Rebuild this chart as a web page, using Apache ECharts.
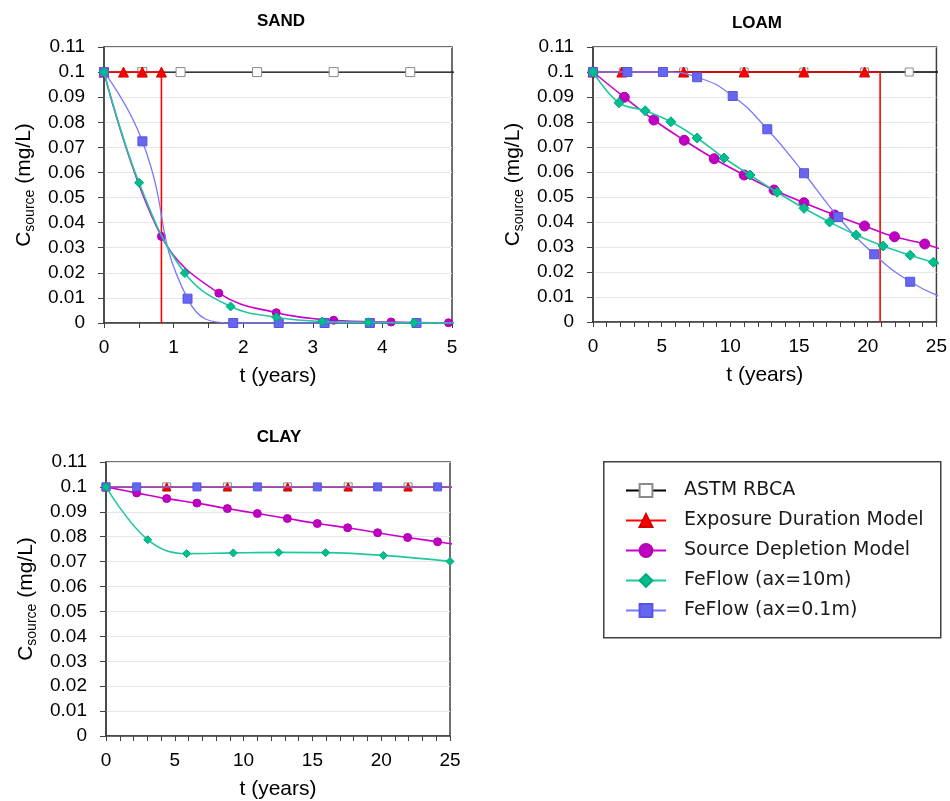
<!DOCTYPE html>
<html><head><meta charset="utf-8">
<script src="https://cdn.jsdelivr.net/npm/echarts@6/dist/echarts.min.js"></script>
<style>html,body{margin:0;padding:0;background:#fff}#c{width:950px;height:801px}</style>
</head><body><div id="c"></div>
<script>
// ---------- DATA ----------
const seriesNames = ['ASTM RBCA', 'Exposure Duration Model', 'Source Depletion Model', 'FeFlow (ax=10m)', 'FeFlow (ax=0.1m)'];
const panelTitles = ['SAND', 'LOAM', 'CLAY'];
const xAxisName = 't (years)';

// SAND (t in years, C in mg/L)
const sandAstmT = [0, 0.55, 1.1, 2.2, 3.3, 4.4, 5.5];
const sandAstmC = [0.1, 0.1, 0.1, 0.1, 0.1, 0.1, 0.1];
const sandExpT  = [0, 0.28, 0.55, 0.825, 0.825];
const sandExpC  = [0.1, 0.1, 0.1, 0.1, 0];
const sandExpUnmarked = [4];          // indices of step points drawn without a marker
const sandSrcT  = [0, 0.825, 1.65, 2.475, 3.3, 4.125, 4.95, 5.78];
const sandSrcC  = [0.1, 0.0345, 0.0119, 0.0041, 0.0011, 0.0004, 0.0001, 0];
const sandF10T  = [0, 0.504, 1.161, 1.819, 2.476, 3.133, 3.796, 4.453, 5.11];
const sandF10C  = [0.1, 0.0559, 0.0199, 0.0066, 0.0023, 0.0006, 0.0003, 0.0001, 0];
const sandF01T  = [0, 0.552, 1.20, 1.857, 2.51, 3.17, 3.82, 4.49, 5.15];
const sandF01C  = [0.1, 0.0724, 0.0097, 0, 0, 0, 0, 0, 0];

// LOAM
const loamAstmT = [0, 2.2, 6.6, 11.0, 15.35, 19.77, 23.02, 27.4];
const loamAstmC = [0.1, 0.1, 0.1, 0.1, 0.1, 0.1, 0.1, 0.1];
const loamExpT  = [0, 2.1, 6.6, 11.0, 15.35, 19.77, 20.9, 20.9];
const loamExpC  = [0.1, 0.1, 0.1, 0.1, 0.1, 0.1, 0.1, 0];
const loamExpUnmarked = [6, 7];
const loamSrcT  = [0, 2.28, 4.43, 6.64, 8.82, 11.0, 13.18, 15.36, 17.59, 19.77, 21.95, 24.15, 26.3];
const loamSrcC  = [0.1, 0.0899, 0.0808, 0.0727, 0.0653, 0.0588, 0.0528, 0.0477, 0.0428, 0.0384, 0.0341, 0.0312, 0.0272];
const loamF10T  = [0, 1.89, 3.80, 5.67, 7.58, 9.54, 11.43, 13.40, 15.36, 17.22, 19.16, 21.12, 23.09, 24.78, 26.7];
const loamF10C  = [0.1, 0.0877, 0.0845, 0.0801, 0.0736, 0.0656, 0.0588, 0.0519, 0.0455, 0.0400, 0.0348, 0.0304, 0.0267, 0.0239, 0.0207];
const loamF01T  = [0, 2.5, 5.09, 7.58, 10.17, 12.69, 15.36, 17.85, 20.47, 23.09, 25.7];
const loamF01C  = [0.1, 0.1, 0.1, 0.0979, 0.0904, 0.0771, 0.0595, 0.0420, 0.0271, 0.0161, 0.0093];

// CLAY
const clayAstmT = [0, 4.41, 8.82, 13.2, 17.6, 21.95, 26.4];
const clayAstmC = [0.1, 0.1, 0.1, 0.1, 0.1, 0.1, 0.1];
const clayExpT  = [0, 4.41, 8.82, 13.2, 17.6, 21.95, 26.4];
const clayExpC  = [0.1, 0.1, 0.1, 0.1, 0.1, 0.1, 0.1];
const clayExpUnmarked = [];
const claySrcT  = [0, 2.23, 4.41, 6.61, 8.82, 11.0, 13.18, 15.36, 17.56, 19.74, 21.92, 24.1, 26.3];
const claySrcC  = [0.1, 0.0976, 0.0953, 0.0935, 0.0913, 0.0893, 0.0873, 0.0853, 0.0836, 0.0816, 0.0797, 0.0780, 0.0761];
const clayF10T  = [0, 3.03, 5.86, 9.25, 12.55, 15.96, 20.16, 25.0];
const clayF10C  = [0.1, 0.0788, 0.0732, 0.0735, 0.0737, 0.0736, 0.0725, 0.0701];
const clayF01T  = [0, 2.23, 6.61, 11.0, 15.36, 19.74, 24.1, 28.5];
const clayF01C  = [0.1, 0.1, 0.1, 0.1, 0.1, 0.1, 0.1, 0.1];

// axis ranges / ticks
const yMin = 0, yMax = 0.11, yStep = 0.01;
const xMaxes = [5, 25, 25];
const xSteps = [1, 5, 5];
const xMinorSplits = [2, 5, 5];

// ---------- STYLES / LAYOUT ----------
const FONT = '"Liberation Sans", Arial, sans-serif';
const styles = [
  {symbol: 'rect',     line: '#000000', fill: '#ffffff', border: '#8a8a8a', lw: 1.3, smooth: false, z: 2},
  {symbol: 'triangle', line: '#ff0000', fill: '#ff0000', border: '#d40000', lw: 1.6, smooth: false, z: 3},
  {symbol: 'circle',   line: '#cc00cc', fill: '#c000c0', border: '#b000b0', lw: 1.6, smooth: 0.4, z: 4},
  {symbol: 'diamond',  line: '#1fc9a0', fill: '#00bf8f', border: '#00a880', lw: 1.6, smooth: 0.4, z: 6},
  {symbol: 'rect',     line: '#7878ff', fill: '#6666f0', border: '#5555dd', lw: 1.3, smooth: 0.5, z: 5}
];
const symbolSizes = [
  [9, 10, 8, 9, 9],
  [8, 10, 10, 10, 9],
  [8, 8, 8, 8, 8]
];
const grids = [
  {left: 104, top: 47, width: 348, height: 276},
  {left: 593, top: 47, width: 344, height: 275},
  {left: 106, top: 462, width: 344, height: 275}
];
const titlePos = [[281, 13], [757, 15], [279, 429]];

const panelData = [
  [[sandAstmT, sandAstmC], [sandExpT, sandExpC], [sandSrcT, sandSrcC], [sandF10T, sandF10C], [sandF01T, sandF01C]],
  [[loamAstmT, loamAstmC], [loamExpT, loamExpC], [loamSrcT, loamSrcC], [loamF10T, loamF10C], [loamF01T, loamF01C]],
  [[clayAstmT, clayAstmC], [clayExpT, clayExpC], [claySrcT, claySrcC], [clayF10T, clayF10C], [clayF01T, clayF01C]]
];
const expUnmarked = [sandExpUnmarked, loamExpUnmarked, clayExpUnmarked];

// ---------- BUILD ----------
const option = {
  animation: false,
  backgroundColor: '#fff',
  title: [], grid: [], xAxis: [], yAxis: [], series: [],
  legend: {
    data: seriesNames, orient: 'vertical', left: 620, top: 476,
    itemWidth: 40, itemHeight: 16, itemGap: 11, selectedMode: false,
    lineStyle: {width: 2},
    textStyle: {fontFamily: '"DejaVu Sans", Verdana, sans-serif', fontSize: 19, color: '#1a1a1a', padding: [0, 0, 0, 13]}
  },
  graphic: [{
    type: 'rect', left: 603, top: 461, z: 0,
    shape: {width: 337, height: 176},
    style: {fill: '#fff', stroke: '#404040', lineWidth: 1.5}
  }]
};

panelTitles.forEach((t, p) => {
  option.title.push({
    text: t, left: titlePos[p][0], top: titlePos[p][1], textAlign: 'center', padding: 0,
    textStyle: {fontFamily: FONT, fontWeight: 'bold', fontSize: 17, color: '#000'}
  });
  option.grid.push(Object.assign({show: true, borderColor: '#404040', borderWidth: 1.5, backgroundColor: '#fff'}, grids[p]));
  option.xAxis.push({
    type: 'value', gridIndex: p, min: 0, max: xMaxes[p], interval: xSteps[p],
    name: xAxisName, nameLocation: 'middle', nameGap: 43,
    nameTextStyle: {fontFamily: FONT, fontSize: 21, color: '#000'},
    axisLine: {lineStyle: {color: '#404040', width: 1.5}},
    axisTick: {show: true, length: 5, lineStyle: {color: '#404040', width: 1}},
    minorTick: {show: true, splitNumber: xMinorSplits[p], length: 5, lineStyle: {color: '#404040', width: 1}},
    axisLabel: {fontFamily: FONT, fontSize: 19, color: '#000', margin: 15},
    splitLine: {show: false}
  });
  option.yAxis.push({
    type: 'value', gridIndex: p, min: yMin, max: yMax, interval: yStep,
    name: '{c|C}{s|source}{c| (mg/L)}', nameLocation: 'middle', nameGap: 67,
    nameTextStyle: {
      color: '#000',
      rich: {
        c: {fontFamily: FONT, fontSize: 21, color: '#000'},
        s: {fontFamily: FONT, fontSize: 14, color: '#000', padding: [12, 0, 0, 0]}
      }
    },
    axisLine: {lineStyle: {color: '#404040', width: 1.5}},
    axisTick: {show: true, length: 6, lineStyle: {color: '#404040', width: 1}},
    axisLabel: {fontFamily: FONT, fontSize: 19, color: '#000', margin: 19,
      formatter: v => String(Math.round(v * 100) / 100)},
    splitLine: {show: true, lineStyle: {color: '#e6e6e6', width: 1}}
  });
  panelData[p].forEach((pair, s) => {
    const st = styles[s];
    const T = pair[0], C = pair[1];
    const data = T.map((t, i) => {
      const item = {value: [t, C[i]]};
      if (s === 1 && expUnmarked[p].indexOf(i) >= 0) item.symbol = 'none';
      return item;
    });
    option.series.push({
      name: seriesNames[s], type: 'line', xAxisIndex: p, yAxisIndex: p,
      data: data, smooth: st.smooth, clip: true, z: st.z,
      symbol: st.symbol, symbolSize: symbolSizes[p][s], showAllSymbol: true,
      lineStyle: {color: st.line, width: st.lw},
      itemStyle: {color: st.fill, borderColor: st.border, borderWidth: 1},
      emphasis: {disabled: true}
    });
  });
});

const chart = echarts.init(document.getElementById('c'), null, {renderer: 'canvas'});
chart.setOption(option);
</script>
</body></html>
